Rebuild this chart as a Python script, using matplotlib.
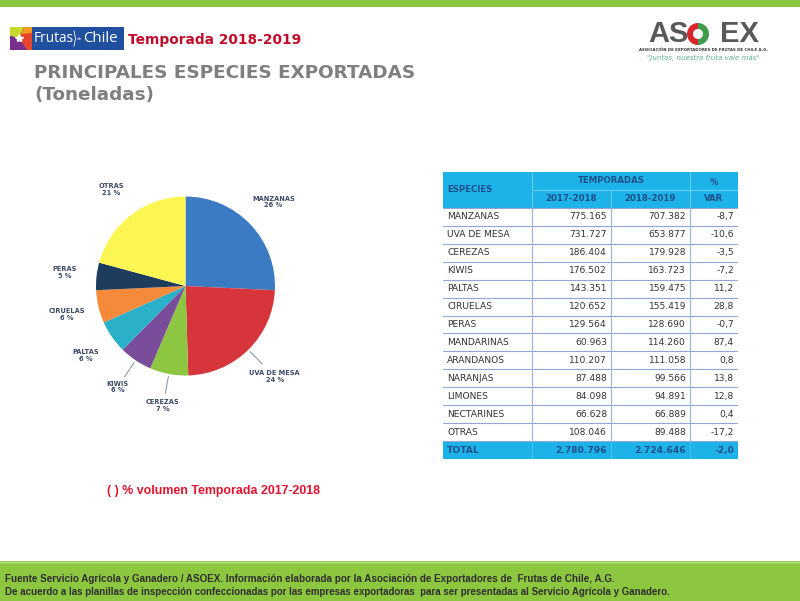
import numpy as np
import matplotlib
matplotlib.use('Agg')
import matplotlib.pyplot as plt
from matplotlib.patches import Rectangle, Polygon, Wedge

plt.rcParams['font.family'] = 'DejaVu Sans'

# ------------------------------------------------------------
# Data
# ------------------------------------------------------------
# pie: % volumen temporada 2017-2018
pie_labels = ['MANZANAS', 'UVA DE MESA', 'CEREZAS', 'KIWIS', 'PALTAS',
              'CIRUELAS', 'PERAS', 'OTRAS']
pie_pcts = [26, 24, 7, 6, 6, 6, 5, 21]
pie_colors = ['#3b7bc3', '#d6363b', '#8dc640', '#7a4d9b', '#2bb0c9',
              '#f68a3b', '#1e3c5e', '#fbf652']
leader_labels = ['UVA DE MESA', 'CEREZAS', 'KIWIS']

# table (toneladas)
species = ['MANZANAS', 'UVA DE MESA', 'CEREZAS', 'KIWIS', 'PALTAS', 'CIRUELAS',
           'PERAS', 'MANDARINAS', 'ARANDANOS', 'NARANJAS', 'LIMONES',
           'NECTARINES', 'OTRAS']
vol_1718 = [775165, 731727, 186404, 176502, 143351, 120652, 129564,
            60963, 110207, 87488, 84098, 66628, 108046]
vol_1819 = [707382, 653877, 179928, 163723, 159475, 155419, 128690,
            114260, 111058, 99566, 94891, 66889, 89488]
var_pct = [-8.7, -10.6, -3.5, -7.2, 11.2, 28.8, -0.7, 87.4, 0.8, 13.8,
           12.8, 0.4, -17.2]
total_1718 = 2780796
total_1819 = 2724646
total_var = -2.0


def fmt_int(v):
    return f'{v:,}'.replace(',', '.')


def fmt_pct(v):
    return f'{v:.1f}'.replace('.', ',')


GREEN = '#8dc63f'
CYAN = '#1db3e8'
HEAD = '#1d4f8a'

fig = plt.figure(figsize=(8, 6.01), dpi=100)

# background / decorations in pixel coordinates
bg = fig.add_axes([0, 0, 1, 1])
bg.set_xlim(0, 800)
bg.set_ylim(601, 0)
bg.axis('off')

bg.add_patch(Rectangle((0, 0), 800, 7, color=GREEN, lw=0))
bg.add_patch(Rectangle((0, 561), 800, 40, color=GREEN, lw=0))
bg.plot([0, 800], [561.5, 561.5], color='#b9de8a', lw=1)

# Frutas de Chile logo
bg.add_patch(Rectangle((10, 27), 114, 23, color='#1f4f9e', lw=0))
bg.add_patch(Polygon([(10, 27), (24, 27), (19, 38), (10, 36)], color='#c9d82c', lw=0))
bg.add_patch(Polygon([(10, 36), (19, 38), (27, 50), (10, 50)], color='#7b2d8e', lw=0))
bg.add_patch(Polygon([(24, 27), (32, 27), (32, 50), (27, 50), (19, 38)], color='#e8452c', lw=0))
bg.add_patch(Polygon([(24, 27), (32, 27), (32, 33), (21, 34)], color='#f39a1f', lw=0))
bg.plot([19], [38], marker='*', color='white', ms=6)
bg.text(34, 39, 'Frutas', color='white', fontsize=9.8, va='center', ha='left',
        family='Open Sans')
bg.plot([74, 75.5, 74], [31, 38.5, 46], color='white', lw=0.6)
bg.text(79, 39, 'de', color='white', fontsize=3, va='center', ha='center')
bg.text(83, 39, 'Chile', color='white', fontsize=10.8, va='center', ha='left',
        family='Open Sans')

bg.text(128, 40, 'Temporada 2018-2019', color='#c00d2a', fontsize=9.9,
        fontweight='bold', va='center', ha='left')
bg.text(34, 73, 'PRINCIPALES ESPECIES EXPORTADAS', color='#7f7f7f',
        fontsize=13.2, fontweight='bold', va='center', ha='left')
bg.text(34, 95, '(Toneladas)', color='#7f7f7f', fontsize=13.2,
        fontweight='bold', va='center', ha='left')

# ASOEX logo
bg.text(648, 34, 'AS', color='#595959', fontsize=21, fontweight='bold',
        family=['Liberation Sans Narrow', 'Liberation Sans'], va='center', ha='left')
bg.text(759, 34, 'EX', color='#595959', fontsize=21, fontweight='bold',
        family=['Liberation Sans Narrow', 'Liberation Sans'], va='center', ha='right')
bg.add_patch(Wedge((698, 34), 11, 90, 270, color='#d9262b', lw=0))
bg.add_patch(Wedge((698, 34), 11, -90, 90, color='#3f9a4c', lw=0))
bg.add_patch(Wedge((698, 34), 5, 0, 360, color='white', lw=0))
bg.text(703, 50, 'ASOCIACIÓN DE EXPORTADORES DE FRUTAS DE CHILE A.G.',
        color='#333333', fontsize=2.8, fontweight='bold', va='center', ha='center')
bg.text(703, 58, '"Juntos, nuestra fruta vale más"', color='#5aae92',
        fontsize=5, style='italic', va='center', ha='center')

bg.text(107, 491, '( ) % volumen Temporada 2017-2018', color='#e3132f',
        fontsize=8.9, fontweight='bold', va='center', ha='left',
        family='Liberation Sans')

bg.text(5, 579, 'Fuente Servicio Agrícola y Ganadero / ASOEX. Información elaborada por la '
        'Asociación de Exportadores de  Frutas de Chile, A.G.',
        color='#2e2e2e', fontsize=7.1, fontweight='bold', va='center', ha='left',
        family='Liberation Sans')
bg.text(5, 592, 'De acuerdo a las planillas de inspección confeccionadas por las empresas '
        'exportadoras  para ser presentadas al Servicio Agrícola y Ganadero.',
        color='#2e2e2e', fontsize=7.0, fontweight='bold', va='center', ha='left',
        family='Liberation Sans')

# ------------------------------------------------------------
# Pie
# ------------------------------------------------------------
pax = fig.add_axes([0.12, 0.3752, 0.22375, 0.2978])
wedges, _ = pax.pie(pie_pcts, colors=pie_colors, startangle=90,
                    counterclock=False, wedgeprops=dict(linewidth=0))
pax.set_xlim(-1, 1)
pax.set_ylim(-1, 1)
pax.set_aspect('equal')
for w, lab, p in zip(wedges, pie_labels, pie_pcts):
    ang = np.deg2rad((w.theta1 + w.theta2) / 2)
    dist = 1.42 if lab == 'UVA DE MESA' else 1.36
    pax.text(dist * np.cos(ang), dist * np.sin(ang), f'{lab}\n{p} %',
             ha='center', va='center', fontsize=4.8, fontweight='bold',
             color='#3c4a66', linespacing=1.15, clip_on=False)
    if lab in leader_labels:
        pax.plot([1.03 * np.cos(ang), 1.22 * np.cos(ang)],
                 [1.03 * np.sin(ang), 1.22 * np.sin(ang)],
                 color='#7f8fa6', lw=0.7, clip_on=False)

# ------------------------------------------------------------
# Table
# ------------------------------------------------------------
col_edges = [0, 89, 168, 247, 295]
n = len(species)
tax = fig.add_axes([443 / 800, 1 - 459 / 601, 295 / 800, 287 / 601])
tax.set_xlim(0, 295)
tax.set_ylim(n + 3, 0)
tax.axis('off')

tax.add_patch(Rectangle((0, 0), 295, 2, color=CYAN, lw=0))
tax.add_patch(Rectangle((0, n + 2), 295, 1, color=CYAN, lw=0))

# header lines
hl = '#63cdf2'
tax.plot([89, 295], [1, 1], color=hl, lw=0.8)
tax.plot([89, 89], [0, 2], color=hl, lw=0.8)
tax.plot([168, 168], [1, 2], color=hl, lw=0.8)
tax.plot([247, 247], [0, 2], color=hl, lw=0.8)

# body lines
for r in range(2, n + 3):
    tax.plot([0, 295], [r, r], color='#8ea8cf', lw=0.8)
for c in col_edges[1:4]:
    tax.plot([c, c], [2, n + 2], color='#9fb5d8', lw=0.8)
    tax.plot([c, c], [n + 2, n + 3], color='#4cc3ee', lw=0.6)

hkw = dict(color=HEAD, fontsize=6.2, fontweight='bold', va='center')
tax.text(4, 1, 'ESPECIES', ha='left', **hkw)
tax.text((89 + 247) / 2, 0.5, 'TEMPORADAS', ha='center', **hkw)
tax.text((247 + 295) / 2, 0.6, '%', ha='center', **hkw)
tax.text((89 + 168) / 2, 1.5, '2017-2018', ha='center', **hkw)
tax.text((168 + 247) / 2, 1.5, '2018-2019', ha='center', **hkw)
tax.text((247 + 295) / 2, 1.5, 'VAR', ha='center', **hkw)

dkw = dict(color='#333333', fontsize=6.6, va='center')
for i, (s, a, b, v) in enumerate(zip(species, vol_1718, vol_1819, var_pct)):
    y = i + 2.5
    tax.text(4, y, s, ha='left', **dkw)
    tax.text(col_edges[2] - 4, y, fmt_int(a), ha='right', **dkw)
    tax.text(col_edges[3] - 4, y, fmt_int(b), ha='right', **dkw)
    tax.text(col_edges[4] - 4, y, fmt_pct(v), ha='right', **dkw)

tkw = dict(color=HEAD, fontsize=6.6, fontweight='bold', va='center')
y = n + 2.5
tax.text(4, y, 'TOTAL', ha='left', **tkw)
tax.text(col_edges[2] - 4, y, fmt_int(total_1718), ha='right', **tkw)
tax.text(col_edges[3] - 4, y, fmt_int(total_1819), ha='right', **tkw)
tax.text(col_edges[4] - 4, y, fmt_pct(total_var), ha='right', **tkw)

fig.savefig('out.png', dpi=100)
plt.close()
